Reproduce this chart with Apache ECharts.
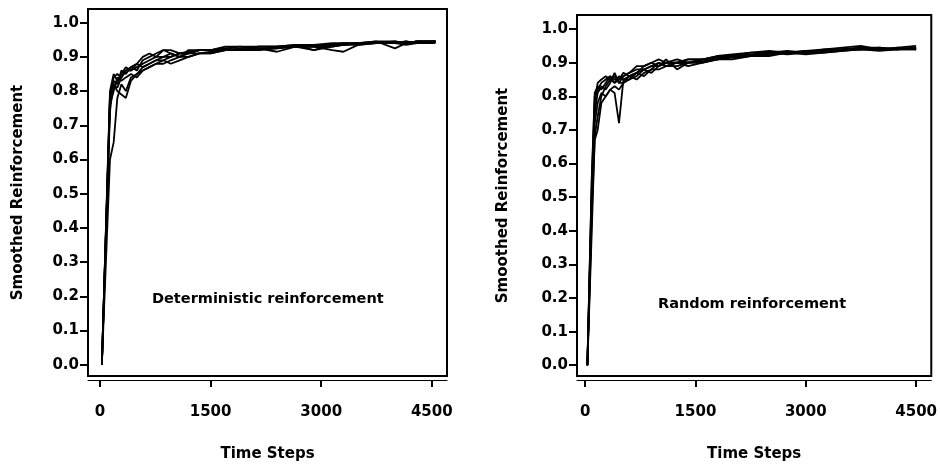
<!DOCTYPE html>
<html>
<head>
<meta charset="utf-8">
<script src="https://cdn.jsdelivr.net/npm/echarts@6/dist/echarts.min.js"></script>
<style>
  html, body { margin: 0; padding: 0; background: #fff; }
  #chart { width: 940px; height: 467px; }
</style>
</head>
<body>
<div id="chart"></div>
<script>
// time steps sampled along each run
const leftSteps = [25, 135, 185, 235, 290, 350, 420, 500, 580, 670, 760, 860, 960, 1080, 1200, 1350, 1500, 1700, 1900, 2150, 2400, 2650, 2900, 3150, 3300, 3500, 3750, 4000, 4150, 4300, 4550];
const rightSteps = [30, 90, 130, 170, 220, 280, 340, 400, 460, 520, 600, 700, 800, 900, 1000, 1100, 1250, 1400, 1600, 1800, 2000, 2250, 2500, 2750, 3000, 3250, 3500, 3750, 4000, 4250, 4500];

// deterministic reinforcement runs
const detRun1 = [0, 0.78, 0.84, 0.85, 0.84, 0.86, 0.86, 0.87, 0.88, 0.89, 0.90, 0.90, 0.91, 0.90, 0.91, 0.91, 0.91, 0.92, 0.92, 0.92, 0.93, 0.93, 0.93, 0.935, 0.94, 0.94, 0.94, 0.94, 0.945, 0.94, 0.945];
const detRun2 = [0, 0.60, 0.65, 0.78, 0.82, 0.80, 0.84, 0.85, 0.86, 0.87, 0.88, 0.88, 0.89, 0.90, 0.90, 0.91, 0.915, 0.92, 0.92, 0.925, 0.925, 0.93, 0.93, 0.93, 0.935, 0.935, 0.94, 0.94, 0.94, 0.945, 0.945];
const detRun3 = [0, 0.74, 0.83, 0.82, 0.86, 0.85, 0.87, 0.86, 0.89, 0.90, 0.91, 0.92, 0.91, 0.90, 0.92, 0.92, 0.92, 0.92, 0.925, 0.93, 0.93, 0.93, 0.92, 0.93, 0.935, 0.94, 0.94, 0.945, 0.94, 0.945, 0.945];
const detRun4 = [0, 0.76, 0.80, 0.84, 0.83, 0.84, 0.85, 0.84, 0.86, 0.87, 0.88, 0.89, 0.88, 0.89, 0.90, 0.91, 0.91, 0.92, 0.92, 0.92, 0.925, 0.93, 0.93, 0.92, 0.915, 0.935, 0.94, 0.94, 0.935, 0.94, 0.94];
const detRun5 = [0, 0.80, 0.85, 0.83, 0.85, 0.87, 0.86, 0.88, 0.87, 0.88, 0.89, 0.90, 0.90, 0.91, 0.915, 0.92, 0.92, 0.925, 0.92, 0.93, 0.93, 0.935, 0.935, 0.94, 0.94, 0.94, 0.945, 0.925, 0.94, 0.945, 0.945];
const detRun6 = [0, 0.77, 0.82, 0.81, 0.84, 0.86, 0.87, 0.88, 0.90, 0.91, 0.90, 0.92, 0.92, 0.91, 0.91, 0.92, 0.92, 0.925, 0.93, 0.93, 0.93, 0.935, 0.92, 0.935, 0.935, 0.94, 0.94, 0.94, 0.945, 0.94, 0.945];
const detRun7 = [0, 0.79, 0.82, 0.80, 0.79, 0.78, 0.83, 0.85, 0.87, 0.88, 0.89, 0.89, 0.90, 0.91, 0.91, 0.92, 0.92, 0.93, 0.93, 0.925, 0.915, 0.93, 0.935, 0.935, 0.935, 0.94, 0.945, 0.945, 0.94, 0.945, 0.945];

// random reinforcement runs
const rndRun1 = [0, 0.55, 0.80, 0.82, 0.84, 0.85, 0.86, 0.85, 0.85, 0.86, 0.87, 0.88, 0.88, 0.89, 0.90, 0.89, 0.90, 0.90, 0.91, 0.91, 0.92, 0.92, 0.93, 0.93, 0.93, 0.935, 0.94, 0.945, 0.94, 0.94, 0.945];
const rndRun2 = [0, 0.45, 0.67, 0.70, 0.78, 0.80, 0.82, 0.81, 0.72, 0.85, 0.86, 0.87, 0.88, 0.89, 0.89, 0.90, 0.90, 0.91, 0.91, 0.915, 0.92, 0.925, 0.93, 0.93, 0.935, 0.935, 0.94, 0.94, 0.945, 0.94, 0.94];
const rndRun3 = [0, 0.50, 0.75, 0.81, 0.83, 0.82, 0.84, 0.87, 0.84, 0.84, 0.86, 0.85, 0.87, 0.88, 0.90, 0.89, 0.89, 0.90, 0.905, 0.91, 0.915, 0.92, 0.93, 0.925, 0.93, 0.935, 0.94, 0.94, 0.94, 0.945, 0.94];
const rndRun4 = [0, 0.40, 0.68, 0.74, 0.80, 0.83, 0.85, 0.84, 0.86, 0.85, 0.85, 0.86, 0.88, 0.87, 0.89, 0.91, 0.88, 0.90, 0.90, 0.91, 0.92, 0.92, 0.925, 0.93, 0.93, 0.93, 0.935, 0.94, 0.94, 0.94, 0.945];
const rndRun5 = [0, 0.52, 0.78, 0.84, 0.85, 0.86, 0.85, 0.86, 0.84, 0.86, 0.87, 0.89, 0.89, 0.90, 0.89, 0.90, 0.91, 0.90, 0.91, 0.92, 0.92, 0.93, 0.93, 0.935, 0.93, 0.94, 0.945, 0.95, 0.94, 0.945, 0.95];
const rndRun6 = [0, 0.48, 0.72, 0.78, 0.81, 0.80, 0.82, 0.83, 0.82, 0.84, 0.85, 0.87, 0.86, 0.88, 0.88, 0.89, 0.90, 0.89, 0.90, 0.91, 0.91, 0.92, 0.92, 0.93, 0.925, 0.93, 0.935, 0.94, 0.935, 0.94, 0.94];
const rndRun7 = [0, 0.56, 0.81, 0.83, 0.82, 0.84, 0.86, 0.84, 0.85, 0.87, 0.86, 0.87, 0.89, 0.90, 0.91, 0.90, 0.90, 0.91, 0.91, 0.92, 0.925, 0.93, 0.935, 0.93, 0.935, 0.94, 0.94, 0.945, 0.945, 0.94, 0.945];

const xTicks = [0, 1500, 3000, 4500];
const yTicks = [0, 0.1, 0.2, 0.3, 0.4, 0.5, 0.6, 0.7, 0.8, 0.9, 1.0];

const font = 'DejaVu Sans';
const textStyle = { fontFamily: font, fontWeight: 'bold', fontSize: 15, color: '#000' };

const xAxisFor = (idx, min) => ({
  type: 'value',
  gridIndex: idx,
  min,
  max: 4706,
  offset: 4,
  name: 'Time Steps',
  nameLocation: 'middle',
  nameGap: 67,
  nameTextStyle: textStyle,
  axisLine: { show: true, onZero: false, lineStyle: { color: '#000', width: 1 } },
  axisTick: { show: true, customValues: xTicks, length: 7, lineStyle: { color: '#000', width: 2 } },
  axisLabel: { customValues: xTicks, margin: 25, formatter: (v) => String(v), ...textStyle },
  splitLine: { show: false },
});

const yAxisFor = (idx, min, max, gap) => ({
  type: 'value',
  gridIndex: idx,
  min,
  max,
  name: 'Smoothed Reinforcement',
  nameLocation: 'middle',
  nameGap: gap,
  nameTextStyle: textStyle,
  axisLine: { show: true, onZero: false, lineStyle: { color: '#000', width: 2 } },
  axisTick: { show: true, customValues: yTicks, length: 8, lineStyle: { color: '#000', width: 2 } },
  axisLabel: { customValues: yTicks, margin: 9, formatter: (v) => v.toFixed(1), ...textStyle },
  splitLine: { show: false },
});

const runSeries = (steps, runs, idx) => runs.map((run) => ({
  type: 'line',
  xAxisIndex: idx,
  yAxisIndex: idx,
  symbol: 'none',
  silent: true,
  lineStyle: { color: '#000', width: 1.8 },
  data: run.map((v, i) => [steps[i], v]),
}));

const chart = echarts.init(document.getElementById('chart'));
chart.setOption({
  animation: false,
  grid: [
    { left: 88, top: 9, width: 359, height: 367, show: true, borderColor: '#000', borderWidth: 2 },
    { left: 577, top: 15, width: 359, height: 365, show: true, borderColor: '#000', borderWidth: 2 },
  ],
  xAxis: [xAxisFor(0, -163), xAxisFor(1, -111)],
  yAxis: [yAxisFor(0, -0.033, 1.04, 62), yAxisFor(1, -0.032, 1.042, 66)],
  graphic: [
    { type: 'text', left: 152, top: 292, style: { text: 'Deterministic reinforcement', font: 'bold 14.5px "DejaVu Sans"', fill: '#000' } },
    { type: 'text', left: 658, top: 297, style: { text: 'Random reinforcement', font: 'bold 14.5px "DejaVu Sans"', fill: '#000' } },
  ],
  series: [
    ...runSeries(leftSteps, [detRun1, detRun2, detRun3, detRun4, detRun5, detRun6, detRun7], 0),
    ...runSeries(rightSteps, [rndRun1, rndRun2, rndRun3, rndRun4, rndRun5, rndRun6, rndRun7], 1),
  ],
});
</script>
</body>
</html>
